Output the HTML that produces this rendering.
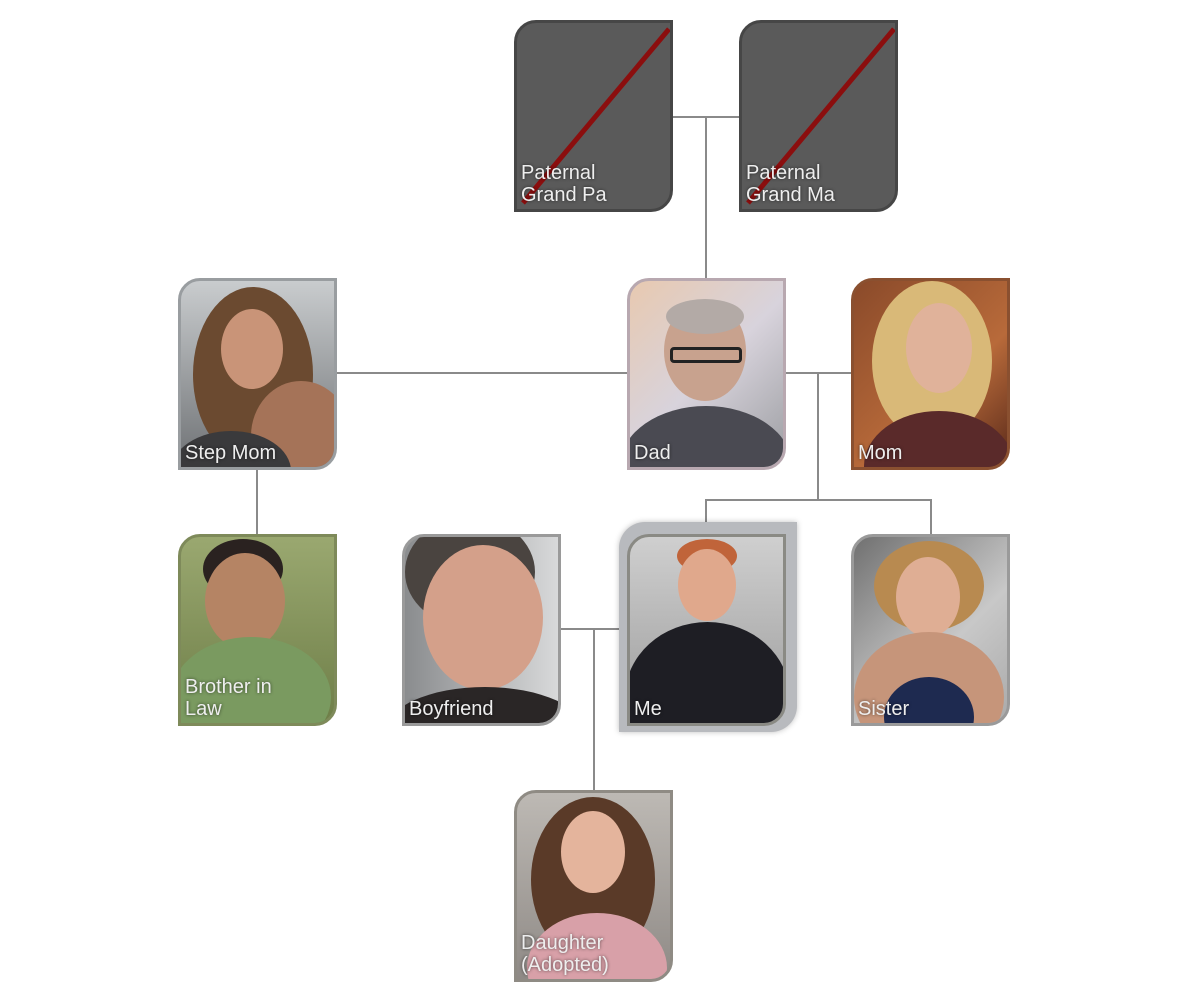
<!DOCTYPE html>
<html><head><meta charset="utf-8"><style>
html,body{margin:0;padding:0;background:#fff;}
body{width:1200px;height:1000px;position:relative;overflow:hidden;font-family:"Liberation Sans",sans-serif;}
.l{position:absolute;background:#8a8a8a;}
.c{position:absolute;width:153px;height:186px;border:3px solid #888;border-radius:22px 0 22px 0;overflow:hidden;}
.c .lab{position:absolute;left:4px;bottom:3px;color:#eee;font-size:20px;line-height:22px;text-shadow:0 0 3px rgba(0,0,0,.6);z-index:5;}
.c .p{position:absolute;border-radius:50%;}
</style></head><body>

<!-- connectors -->
<div class="l" style="left:673px;top:116px;width:66px;height:2px"></div>
<div class="l" style="left:705px;top:116px;width:2px;height:162px"></div>
<div class="l" style="left:336px;top:372px;width:291px;height:2px"></div>
<div class="l" style="left:785px;top:372px;width:66px;height:2px"></div>
<div class="l" style="left:817px;top:372px;width:2px;height:128px"></div>
<div class="l" style="left:705px;top:499px;width:227px;height:2px"></div>
<div class="l" style="left:705px;top:499px;width:2px;height:35px"></div>
<div class="l" style="left:930px;top:499px;width:2px;height:35px"></div>
<div class="l" style="left:256px;top:468px;width:2px;height:66px"></div>
<div class="l" style="left:560px;top:628px;width:67px;height:2px"></div>
<div class="l" style="left:593px;top:628px;width:2px;height:162px"></div>

<!-- grandparents -->
<div class="c" style="left:514px;top:20px;background:#5a5a5a;border-color:#464646">
 <svg width="153" height="186" style="position:absolute;left:0;top:0"><line x1="6" y1="180" x2="152" y2="6" stroke="#8b0e0e" stroke-width="5"/></svg>
 <div class="lab">Paternal<br>Grand Pa</div></div>
<div class="c" style="left:739px;top:20px;background:#5a5a5a;border-color:#464646">
 <svg width="153" height="186" style="position:absolute;left:0;top:0"><line x1="6" y1="180" x2="152" y2="6" stroke="#8b0e0e" stroke-width="5"/></svg>
 <div class="lab">Paternal<br>Grand Ma</div></div>

<!-- Step Mom -->
<div class="c" style="left:178px;top:278px;background:linear-gradient(#c9ccce,#6f7275);border-color:#999da0">
 <div class="p" style="left:12px;top:6px;width:120px;height:175px;background:#6b4a30"></div>
 <div class="p" style="left:40px;top:28px;width:62px;height:80px;background:#c99478"></div>
 <div class="p" style="left:70px;top:100px;width:100px;height:110px;background:#a57358"></div>
 <div class="p" style="left:-10px;top:150px;width:120px;height:80px;background:#3a3a3c"></div>
 <div class="lab">Step Mom</div></div>

<!-- Dad -->
<div class="c" style="left:627px;top:278px;background:linear-gradient(135deg,#e8c9b0,#d8d3dc 50%,#9c9ea2);border-color:#b8a8b0">
 <div class="p" style="left:34px;top:20px;width:82px;height:100px;background:#c8a28e"></div>
 <div class="p" style="left:36px;top:18px;width:78px;height:35px;background:#b3aaa6"></div>
 <div style="position:absolute;left:40px;top:66px;width:72px;height:16px;border:3px solid #222;box-sizing:border-box;border-radius:4px"></div>
 <div class="p" style="left:-10px;top:125px;width:172px;height:120px;background:#4a4a52"></div>
 <div class="lab">Dad</div></div>

<!-- Mom -->
<div class="c" style="left:851px;top:278px;background:linear-gradient(135deg,#8a4a2a,#b86a3a 60%,#5a2a1a);border-color:#8a5030">
 <div class="p" style="left:18px;top:0px;width:120px;height:160px;background:#d9b978"></div>
 <div class="p" style="left:52px;top:22px;width:66px;height:90px;background:#e0b29a"></div>
 <div class="p" style="left:10px;top:130px;width:150px;height:110px;background:#5a2a2a"></div>
 <div class="lab">Mom</div></div>

<!-- Brother in Law -->
<div class="c" style="left:178px;top:534px;background:linear-gradient(#9aa870,#6e7e48);border-color:#7e8a5a">
 <div class="p" style="left:22px;top:2px;width:80px;height:60px;background:#2a2220"></div>
 <div class="p" style="left:24px;top:16px;width:80px;height:96px;background:#b58464"></div>
 <div class="p" style="left:-10px;top:100px;width:160px;height:120px;background:#7a9a60"></div>
 <div class="lab">Brother in<br>Law</div></div>

<!-- Boyfriend -->
<div class="c" style="left:402px;top:534px;background:linear-gradient(90deg,#8a8c8e,#d8d9da);border-color:#9a9a9a">
 <div class="p" style="left:0px;top:-20px;width:130px;height:110px;background:#4a4440"></div>
 <div class="p" style="left:18px;top:8px;width:120px;height:145px;background:#d4a08a"></div>
 <div class="p" style="left:-20px;top:150px;width:200px;height:90px;background:#2a2626"></div>
 <div class="lab">Boyfriend</div></div>

<!-- Me -->
<div style="position:absolute;left:619px;top:522px;width:178px;height:210px;border-radius:26px 0 26px 0;background:#b8babe;box-shadow:0 0 6px rgba(0,0,0,.25)"></div>
<div class="c" style="left:627px;top:534px;background:linear-gradient(#cfcfcf,#9c9c9c);border-color:#8a8a84">
 <div class="p" style="left:47px;top:2px;width:60px;height:34px;background:#c0643a"></div>
 <div class="p" style="left:48px;top:12px;width:58px;height:72px;background:#e0a88c"></div>
 <div class="p" style="left:-5px;top:85px;width:165px;height:150px;background:#1e1e24"></div>
 <div class="lab">Me</div></div>

<!-- Sister -->
<div class="c" style="left:851px;top:534px;background:linear-gradient(135deg,#707070,#c8c8c8 60%,#aaa);border-color:#9a9a9a">
 <div class="p" style="left:20px;top:4px;width:110px;height:90px;background:#b88a50"></div>
 <div class="p" style="left:42px;top:20px;width:64px;height:80px;background:#dfae94"></div>
 <div class="p" style="left:0px;top:95px;width:150px;height:130px;background:#c6957a"></div>
 <div class="p" style="left:30px;top:140px;width:90px;height:80px;background:#1e2a50"></div>
 <div class="lab">Sister</div></div>

<!-- Daughter -->
<div class="c" style="left:514px;top:790px;background:linear-gradient(#bdb9b4,#8f8a86);border-color:#8f8b84">
 <div class="p" style="left:14px;top:4px;width:124px;height:165px;background:#5a3a28"></div>
 <div class="p" style="left:44px;top:18px;width:64px;height:82px;background:#e4b49c"></div>
 <div class="p" style="left:10px;top:120px;width:140px;height:110px;background:#d8a0a8"></div>
 <div class="lab">Daughter<br>(Adopted)</div></div>

</body></html>
